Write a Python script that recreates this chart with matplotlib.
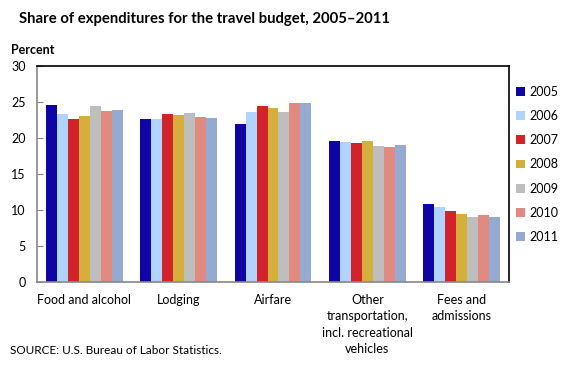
import numpy as np
import matplotlib.pyplot as plt

plt.rcParams['font.family'] = ['Lato', 'DejaVu Sans']

categories = ['Food and alcohol', 'Lodging', 'Airfare',
              'Other\ntransportation,\nincl. recreational\nvehicles',
              'Fees and\nadmissions']
years = ['2005', '2006', '2007', '2008', '2009', '2010', '2011']
share = {
    '2005': [24.6, 22.6, 21.9, 19.6, 10.8],
    '2006': [23.3, 22.6, 23.6, 19.45, 10.4],
    '2007': [22.6, 23.3, 24.4, 19.3, 9.85],
    '2008': [23.1, 23.2, 24.2, 19.6, 9.45],
    '2009': [24.45, 23.5, 23.6, 18.9, 9.0],
    '2010': [23.75, 22.9, 24.9, 18.75, 9.3],
    '2011': [23.9, 22.8, 24.9, 19.0, 9.0],
}
colors = ['#0F05A5', '#B0D4FF', '#D3232A', '#D4B03A', '#BEBEBE', '#E08A80', '#95AAD0']

fig = plt.figure(figsize=(5.8, 3.65), dpi=100)
ax = fig.add_axes([0.0638, 0.2274, 0.8138, 0.5916])

x = np.arange(len(categories))
w = 0.116
for i, yr in enumerate(years):
    ax.bar(x + (i - 3) * w, share[yr], width=w, color=colors[i], label=yr)

ax.set_xlim(-0.5, len(categories) - 0.5)
ax.set_ylim(0, 30)
ax.set_yticks(range(0, 31, 5))
ax.set_xticks([])
for side in ['left', 'bottom']:
    ax.spines[side].set_color('#888888')
    ax.spines[side].set_linewidth(1.2)
for side in ['top', 'right']:
    ax.spines[side].set_color('black')
    ax.spines[side].set_linewidth(1.2)
ax.tick_params(axis='y', direction='in', length=4, color='#888888',
               labelsize=9, pad=8)

for xi, lab in zip(x, categories):
    ax.text(xi, -1.6, lab, ha='center', va='top', fontsize=9,
            linespacing=1.45)

ax.legend(loc='upper left', bbox_to_anchor=(1.005, 0.933), frameon=False,
          fontsize=9, handlelength=0.7, handleheight=0.7, handletextpad=0.35,
          labelspacing=0.98, borderaxespad=0)

fig.text(0.033, 0.948, 'Share of expenditures for the travel budget, 2005\u20132011',
         fontsize=10.7, fontweight='bold', va='center')
fig.text(0.019, 0.862, 'Percent', fontsize=9, fontweight='bold', va='center')
fig.text(0.017, 0.04, 'SOURCE: U.S. Bureau of Labor Statistics.', fontsize=8.5,
         va='center')

fig.savefig('out.png', dpi=100)
